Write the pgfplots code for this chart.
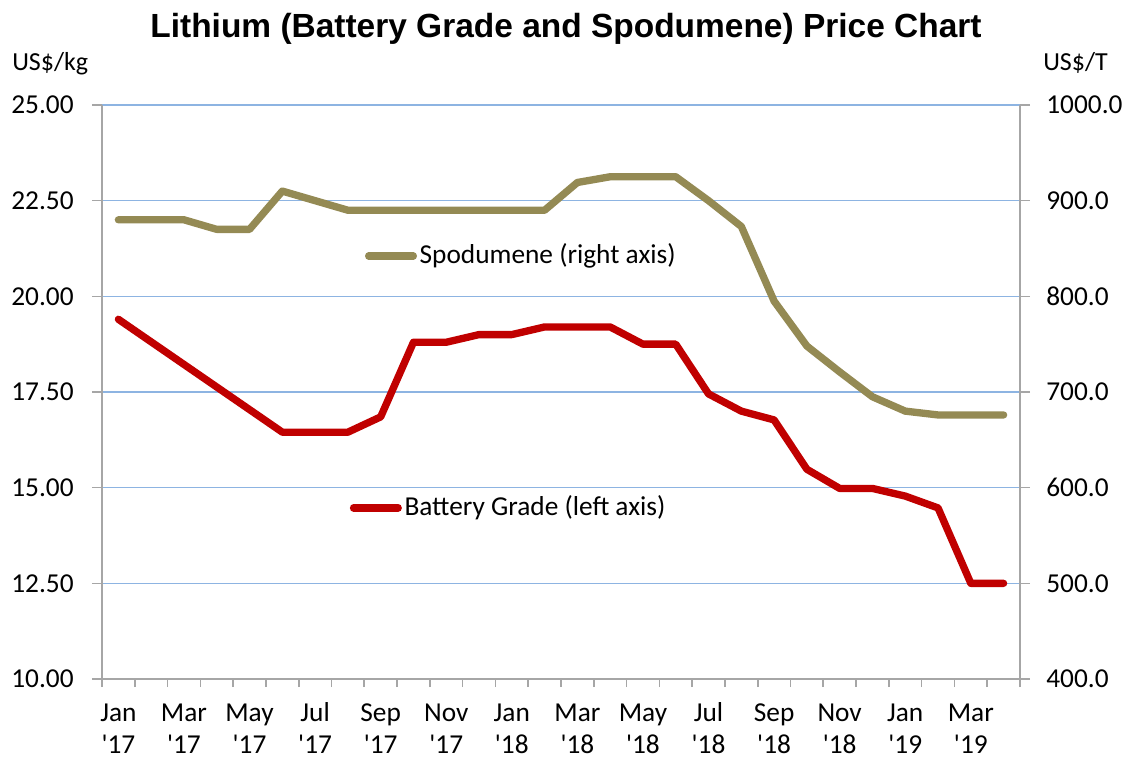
\documentclass[border=0pt]{standalone}
\usepackage{pgfplots}
\pgfplotsset{compat=1.18}
\usepackage{pgfplotstable}
\usepackage{fontspec}
\setmainfont{Carlito}
\newfontfamily\titlefont{Liberation Sans}
\definecolor{spod}{HTML}{948A54}
\definecolor{batt}{HTML}{C00000}
\definecolor{gridblue}{HTML}{8DB4E2}
\definecolor{axgray}{HTML}{A6A6A6}

% month index (centre of each month), battery grade US$/kg, spodumene US$/T
\pgfplotstableread{
m    batt   spod
0.5  19.40  880
1.5  18.81  880
2.5  18.22  880
3.5  17.63  870
4.5  17.04  870
5.5  16.45  910
6.5  16.45  900
7.5  16.45  890
8.5  16.85  890
9.5  18.80  890
10.5 18.80  890
11.5 19.00  890
12.5 19.00  890
13.5 19.20  890
14.5 19.20  919
15.5 19.20  925
16.5 18.75  925
17.5 18.75  925
18.5 17.45  900
19.5 17.00  873
20.5 16.77  795
21.5 15.48  748
22.5 14.98  721
23.5 14.98  695
24.5 14.78  680
25.5 14.47  676
26.5 12.50  676
27.5 12.50  676
}\pricedata

\newcommand\xl[2]{\rule{0pt}{14pt}#1\\\textquotesingle#2}

\begin{document}
\fontsize{20.5}{24}\selectfont
\begin{tikzpicture}[font=\fontsize{20.5}{24}\selectfont]
\useasboundingbox (-76.5pt,-60.75pt) rectangle (771.75pt,509.25pt);
\pgfplotsset{
  every axis/.append style={
    width=688.5pt, height=430.5pt, scale only axis,
    xmin=0, xmax=28,
    /pgf/number format/assume math mode=true,
    tick style={axgray, line width=1.2pt},
    axis line style={axgray, line width=1.2pt},
    tick align=outside,
    major tick length=7.5pt,
    minor tick length=6pt,
    legend image code/.code={\draw[#1] (0pt,0pt) -- (33.5pt,0pt);},
    legend style={draw=none, fill=none, inner sep=0pt, outer sep=0pt,
      anchor=west, legend cell align=left,
      font=\fontsize{20.5}{24}\selectfont},
  },
}
\begin{axis}[
  axis x line*=bottom, axis y line*=left,
  ymin=10, ymax=25, ytick={10,12.5,...,25},
  yticklabel style={xshift=-6.75pt, /pgf/number format/.cd, fixed, fixed zerofill, precision=2},
  ymajorgrids, grid style={gridblue, line width=1pt},
  xtick={0.5,2.5,...,26.5},
  xticklabels={\xl{Jan}{17}, \xl{Mar}{17}, \xl{May}{17}, \xl{Jul}{17},
    \xl{Sep}{17}, \xl{Nov}{17}, \xl{Jan}{18}, \xl{Mar}{18}, \xl{May}{18},
    \xl{Jul}{18}, \xl{Sep}{18}, \xl{Nov}{18}, \xl{Jan}{19}, \xl{Mar}{19}},
  xticklabel style={align=center, inner ysep=1pt, yshift=-8.8pt, font=\fontsize{20.5}{24}\selectfont},
  major x tick style={draw=none},
  minor xtick={0,1,...,28},
  legend style={at={(0.270,0.298)}},
]
\addplot[batt, line width=5.5pt, line cap=round, line join=round] table[x=m, y=batt] {\pricedata};
\addlegendentry{Battery Grade (left axis)}
\end{axis}
\begin{axis}[
  axis y line*=right, axis x line=none,
  ymin=400, ymax=1000, ytick={400,500,...,1000},
  yticklabel style={xshift=5.25pt, /pgf/number format/.cd, fixed, fixed zerofill, precision=1, 1000 sep={}},
  legend style={at={(0.2865,0.737)}},
]
\addplot[spod, line width=5.5pt, line cap=round, line join=round] table[x=m, y=spod] {\pricedata};
\addlegendentry{Spodumene (right axis)}
\end{axis}
\begin{scope}[x=0.75pt, y=0.75pt]
\node[font=\titlefont\bfseries\fontsize{25.1}{29}\selectfont, anchor=base] at (464,641) {Lithium (Battery Grade and Spodumene) Price Chart};
\node[anchor=base west, inner sep=0pt, font=\fontsize{19.5}{22}\selectfont] at (-90,608) {US\$/kg};
\node[anchor=base west, inner sep=0pt, font=\fontsize{19.5}{22}\selectfont] at (941,608) {US\$/T};
\end{scope}
\end{tikzpicture}
\end{document}
